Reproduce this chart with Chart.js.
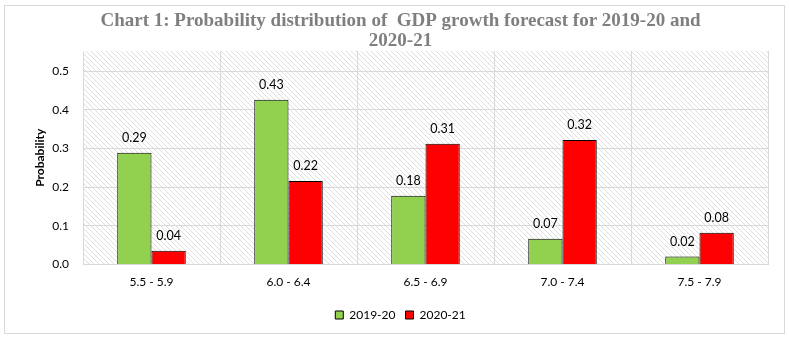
<!DOCTYPE html>
<html>
<head>
<meta charset="utf-8">
<script src="https://cdn.jsdelivr.net/npm/chart.js@4"></script>
<style>
  html, body { margin: 0; padding: 0; background: #fff; }
  #wrap { width: 789px; height: 338px; position: relative; }
</style>
</head>
<body>
<div id="wrap"><canvas id="gdpChart" width="789" height="338"></canvas></div>
<script>
const categories = ['5.5 - 5.9', '6.0 - 6.4', '6.5 - 6.9', '7.0 - 7.4', '7.5 - 7.9'];
const fy2020 = [0.289, 0.426, 0.178, 0.067, 0.021];
const fy2021 = [0.036, 0.216, 0.312, 0.322, 0.082];
const yTicks = [0, 0.1, 0.2, 0.3, 0.4, 0.5];

const FONT = 'Lato, "Open Sans", sans-serif';

function hatch() {
  const c = document.createElement('canvas');
  c.width = 5; c.height = 5;
  const g = c.getContext('2d');
  g.fillStyle = '#ffffff';
  g.fillRect(0, 0, 5, 5);
  g.strokeStyle = '#dedede';
  g.lineWidth = 1;
  g.beginPath();
  g.moveTo(-1, -1); g.lineTo(6, 6);
  g.moveTo(-1, 4); g.lineTo(1, 6);
  g.moveTo(4, -1); g.lineTo(6, 1);
  g.stroke();
  return g.createPattern(c, 'repeat');
}

const plotBg = {
  id: 'plotBg',
  beforeDraw(chart) {
    const { ctx, chartArea: a } = chart;
    ctx.save();
    ctx.fillStyle = hatch();
    ctx.fillRect(a.left, a.top, a.right - a.left, a.bottom - a.top);
    ctx.restore();
  },
  afterDraw(chart) {
    const ctx = chart.ctx;
    ctx.save();
    ctx.strokeStyle = '#d9d9d9';
    ctx.lineWidth = 1;
    ctx.strokeRect(4.5, 5.5, 780, 328);
    ctx.restore();
  }
};

const barLabels = {
  id: 'barLabels',
  afterDatasetsDraw(chart) {
    const ctx = chart.ctx;
    ctx.save();
    ctx.font = '12.5px ' + FONT;
    ctx.fillStyle = '#000';
    ctx.textAlign = 'center';
    ctx.textBaseline = 'middle';
    chart.data.datasets.forEach((ds, i) => {
      chart.getDatasetMeta(i).data.forEach((bar, j) => {
        ctx.fillText(ds.data[j].toFixed(2), bar.x, bar.y - 15);
      });
    });
    ctx.restore();
  }
};

new Chart(document.getElementById('gdpChart'), {
  type: 'bar',
  data: {
    labels: categories,
    datasets: [
      { label: '2019-20', data: fy2020, backgroundColor: '#92d050', borderColor: '#000', borderWidth: 1 },
      { label: '2020-21', data: fy2021, backgroundColor: '#ff0000', borderColor: '#000', borderWidth: 1 }
    ]
  },
  options: {
    responsive: false,
    animation: false,
    layout: { padding: { left: 33, right: 21, top: 0, bottom: 7 } },
    datasets: { bar: { categoryPercentage: 0.5, barPercentage: 1.0 } },
    plugins: {
      title: {
        display: true,
        text: ['Chart 1: Probability distribution of  GDP growth forecast for 2019-20 and', '2020-21'],
        color: '#7f7f7f',
        font: { family: '"Liberation Serif", serif', size: 19, weight: 'bold', lineHeight: 1.05 },
        padding: { top: 11, bottom: 0 }
      },
      legend: {
        position: 'bottom',
        labels: {
          boxWidth: 8, boxHeight: 8,
          color: '#000',
          font: { family: FONT, size: 12 },
          padding: 10
        }
      },
      tooltip: { enabled: false }
    },
    scales: {
      x: {
        grid: { display: true, offset: true, color: '#d9d9d9', drawTicks: false },
        border: { color: '#d9d9d9' },
        ticks: { color: '#000', font: { family: FONT, size: 12 }, padding: 10 }
      },
      y: {
        min: 0,
        max: 0.552,
        afterBuildTicks(axis) { axis.ticks = yTicks.map(v => ({ value: v })); },
        afterFit(axis) { axis.width = 50; },
        grid: { color: '#d9d9d9', drawTicks: false },
        border: { display: false },
        ticks: {
          color: '#000', font: { family: FONT, size: 12 }, padding: 14,
          callback: v => v.toFixed(1)
        },
        title: { display: true, text: 'Probability', color: '#000', font: { family: FONT, size: 12, weight: 'bold' }, padding: 0 }
      }
    }
  },
  plugins: [plotBg, barLabels]
});
</script>
</body>
</html>
